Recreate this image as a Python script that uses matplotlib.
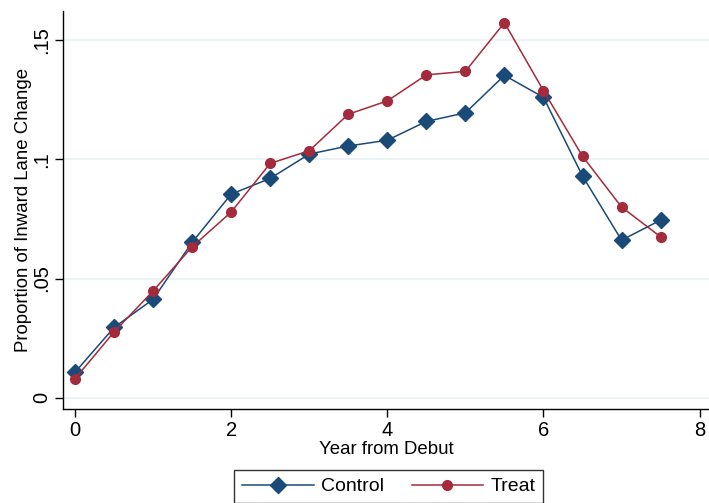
import matplotlib
matplotlib.use("Agg")
import matplotlib.pyplot as plt

# data
years = [0, 0.5, 1, 1.5, 2, 2.5, 3, 3.5, 4, 4.5, 5, 5.5, 6, 6.5, 7, 7.5]
control = [0.0107, 0.0295, 0.0413, 0.0652, 0.0854, 0.0920, 0.1022, 0.1056,
           0.1080, 0.1159, 0.1195, 0.1352, 0.1260, 0.0930, 0.0661, 0.0745]
treat = [0.0080, 0.0276, 0.0448, 0.0633, 0.0779, 0.0983, 0.1036, 0.1189,
         0.1245, 0.1354, 0.1369, 0.1573, 0.1288, 0.1013, 0.0800, 0.0675]
xticks = [0, 2, 4, 6, 8]
yticks = [0, 0.05, 0.1, 0.15]
ytick_labels = ["0", ".05", ".1", ".15"]

navy = "#1a4a78"
maroon = "#a32b3b"
grid_color = "#eaf2f3"
font_size = 13.4
tick_font_size = 14.5

plt.rcParams["font.family"] = ["Liberation Sans", "DejaVu Sans"]

fig = plt.figure(figsize=(7.09, 5.03), dpi=100)
ax = fig.add_axes([63 / 709, 94 / 503, 646 / 709, 398 / 503])

ax.plot(years, control, color=navy, linewidth=1.1, marker="D", markersize=7.8,
        label="Control", zorder=3)
ax.plot(years, treat, color=maroon, linewidth=1.1, marker="o", markersize=7,
        label="Treat", zorder=3)

ax.set_xlim(-0.154, 8.12)
ax.set_ylim(-0.0047, 0.1622)
ax.set_xticks(xticks)
ax.set_yticks(yticks, labels=ytick_labels)
ax.yaxis.grid(True, color=grid_color, linewidth=1.3)
ax.set_axisbelow(True)

for side in ["top", "right"]:
    ax.spines[side].set_visible(False)
for side in ["left", "bottom"]:
    ax.spines[side].set_linewidth(1.0)
    ax.spines[side].set_color("black")

ax.tick_params(axis="both", labelsize=tick_font_size, length=5.5, width=1.0,
               color="black", pad=3)
for lab in ax.get_yticklabels():
    lab.set_rotation(90)
    lab.set_va("center")

ax.set_xlabel("Year from Debut", fontsize=font_size, labelpad=1)
ax.set_ylabel("Proportion of Inward Lane Change", fontsize=font_size, labelpad=0)

leg = fig.legend(loc="upper center", bbox_to_anchor=(388.5 / 709, 33 / 503),
                 ncol=2, fontsize=14, frameon=True, fancybox=False,
                 edgecolor="black", handlelength=3.7, handletextpad=0.36,
                 columnspacing=1.44, borderpad=0.4, borderaxespad=0)
leg.get_frame().set_linewidth(1.0)

fig.savefig("out.png", dpi=100)
